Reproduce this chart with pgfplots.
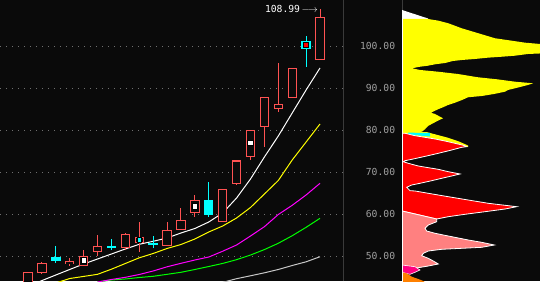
\documentclass[border=0pt]{standalone}
\usepackage{fontspec}
\setmonofont{DejaVu Sans Mono}
\usepackage{pgfplots}
\usepackage{pgfplotstable}
\pgfplotsset{compat=1.18}
\definecolor{bgc}{HTML}{0A0A0A}
\definecolor{upred}{HTML}{FF5252}
\definecolor{dncyan}{HTML}{00FFFF}
\definecolor{sepgray}{HTML}{3A3A3A}
\definecolor{gridgray}{HTML}{707070}
\definecolor{labelgray}{HTML}{A0A0A0}
\definecolor{ma5}{HTML}{FFFFFF}
\definecolor{ma10}{HTML}{FFFF00}
\definecolor{ma20}{HTML}{FF00FF}
\definecolor{ma30}{HTML}{00FF00}
\definecolor{ma60}{HTML}{C8C8C8}
\definecolor{pyellow}{HTML}{FFFF00}
\definecolor{pred}{HTML}{FF0000}
\definecolor{ppink}{HTML}{FF8080}
\definecolor{pmag}{HTML}{FF0080}
\definecolor{porange}{HTML}{FF8000}

% up candles: index, open, close, high, low
\pgfplotstableread{
i o c h l
1 43.5 46.03 46.03 43.5
2 46.03 48.17 48.64 45.8
4 48.2 48.65 49.7 47.76
5 47.76 50.07 51.5 47.76
6 51.1 52.45 55.07 50.07
8 52.05 55.2 55.6 51.5
9 53.2 54.5 58.1 51.0
11 52.5 56.26 58.25 52.5
12 56.33 58.64 61.43 56.33
13 60.38 63.4 64.6 59.43
15 58.24 65.95 65.95 58.24
16 67.29 72.69 72.69 66.98
17 73.81 80.0 80.0 73.0
18 80.95 87.86 87.86 76.1
19 85.14 86.19 96.1 84.43
20 87.86 94.76 94.76 87.86
22 96.81 106.9 108.99 96.81
}\upc
% down candles
\pgfplotstableread{
i o c h l
3 49.67 48.95 52.45 48.48
7 52.45 51.98 54.12 51.5
10 53.0 52.88 54.83 51.9
14 63.4 60.07 67.62 59.43
21 101.1 99.43 102.45 95.14
}\dnc
% markers inside bodies
\pgfplotstableread{
i y
5 49.12
13 61.93
17 77.02
}\wmark
\pgfplotstableread{
i v
1 42.9
2 44.22
3 45.55
4 46.86
5 48.17
6 49.36
7 50.55
8 51.74
9 52.86
10 53.57
11 54.36
12 55.55
13 56.62
14 58.17
15 60.31
16 63.88
17 68.40
18 73.64
19 78.64
20 84.12
21 89.60
22 94.83
}\maA
\pgfplotstableread{
i v
3 43.64
4 44.71
5 45.21
6 45.71
7 46.93
8 48.29
9 49.64
10 50.67
11 51.86
12 52.81
13 54.12
14 55.79
15 57.21
16 59.12
17 61.62
18 64.83
19 68.05
20 72.93
21 77.21
22 81.50
}\maB
\pgfplotstableread{
i v
6 43.88
7 44.48
8 45.00
9 45.67
10 46.50
11 47.50
12 48.33
13 49.12
14 49.83
15 51.21
16 52.69
17 54.83
18 57.05
19 59.95
20 62.14
21 64.60
22 67.38
}\maC
\pgfplotstableread{
i v
6 43.88
7 44.36
8 44.60
9 44.95
10 45.24
11 45.71
12 46.19
13 46.86
14 47.57
15 48.30
16 49.20
17 50.30
18 51.60
19 53.10
20 54.90
21 56.90
22 59.05
}\maD
\pgfplotstableread{
i v
15 43.80
16 44.67
17 45.36
18 46.07
19 46.86
20 47.81
21 48.69
22 49.90
}\maE

\begin{document}
\begin{tikzpicture}
\fill[bgc] (0,0) rectangle (540pt,281pt);
\begin{axis}[at={(0pt,0pt)}, anchor=south west, scale only axis,
  width=343.3pt, height=281pt,
  xmin=-1.0137, xmax=23.675, ymin=44.12, ymax=111.02,
  axis x line=none, axis y line=right, xtick=\empty,
  y axis line style={draw=sepgray, line width=1pt, -},
  ytick={50,60,70,80,90,100},
  yticklabels={50.00,60.00,70.00,80.00,90.00,100.00},
  major tick length=0pt,
  ymajorgrids,
  grid style={draw=gridgray, line width=1pt, dash pattern=on 1pt off 5pt},
  yticklabel style={anchor=east, inner sep=0pt, xshift=52pt, text=labelgray,
    font=\ttfamily\fontsize{9.7}{10}\selectfont},
  clip=true]
% moving averages
\addplot[ma60, line width=1pt] table[x=i,y=v] {\maE};
\addplot[ma30, line width=1pt] table[x=i,y=v] {\maD};
\addplot[ma20, line width=1pt] table[x=i,y=v] {\maC};
\addplot[ma10, line width=1pt] table[x=i,y=v] {\maB};
\addplot[ma5, line width=1pt] table[x=i,y=v] {\maA};
% wicks
\addplot[draw=none, mark=none, error bars/.cd, y dir=plus, y explicit, error mark=none,
  error bar style={draw=upred, line width=1pt}]
  table[x=i, y=l, y error expr=\thisrow{h}-\thisrow{l}] {\upc};
\addplot[draw=none, mark=none, error bars/.cd, y dir=plus, y explicit, error mark=none,
  error bar style={draw=dncyan, line width=1pt}]
  table[x=i, y=l, y error expr=\thisrow{h}-\thisrow{l}] {\dnc};
% up bodies (hollow)
\addplot[draw=none, mark=none, error bars/.cd, y dir=both, y explicit, error mark=none,
  error bar style={draw=upred, line width=9.4pt}]
  table[x=i, y expr=(\thisrow{o}+\thisrow{c})/2, y error expr={abs(\thisrow{c}-\thisrow{o})/2+0.12}] {\upc};
\addplot[draw=none, mark=none, error bars/.cd, y dir=both, y explicit, error mark=none,
  error bar style={draw=bgc, line width=7.4pt}]
  table[x=i, y expr=(\thisrow{o}+\thisrow{c})/2, y error expr={max(abs(\thisrow{c}-\thisrow{o})/2-0.12,0.001)}] {\upc};
% down bodies (filled)
\addplot[draw=none, mark=none, error bars/.cd, y dir=both, y explicit, error mark=none,
  error bar style={draw=dncyan, line width=9.4pt}]
  table[x=i, y expr=(\thisrow{o}+\thisrow{c})/2, y error expr={abs(\thisrow{c}-\thisrow{o})/2+0.12}] {\dnc};
% markers
\addplot[only marks, mark=square*, mark size=2.8pt, mark options={draw=none, fill=white}]
  table[x=i,y=y] {\wmark};
\addplot[only marks, mark=square*, mark size=2.4pt, mark options={draw=none, fill=dncyan}]
  coordinates {(9,53.9)};
\addplot[only marks, mark=square*, mark size=2.5pt, mark options={draw=none, fill=pred}]
  coordinates {(21,100.4)};
% high label
\addplot[draw=none, mark=none, nodes near coords={108.99\,$\longrightarrow$},
  every node near coord/.append style={anchor=east, text=white, inner sep=0pt, xshift=-2pt,
    font=\ttfamily\fontsize{9.7}{10}\selectfont}]
  coordinates {(22,108.99)};
\end{axis}

\begin{axis}[at={(402pt,0pt)}, anchor=south west, scale only axis,
  width=138pt, height=281pt, xmin=0, xmax=138, ymin=44.12, ymax=111.02,
  hide axis, clip=true]
\addplot[draw=none, fill=white] coordinates {(0,108.64) (26,106.62) (26,106.50) (0,106.50) (0,108.64)};
\addplot[draw=none, fill=pyellow] coordinates {(0,106.50) (26,106.50) (36.3,106.10) (46.3,105.48) (59.7,104.29) (76.3,103.10) (93,101.91) (109.7,101.33) (123,100.86) (138,100.55) (142,100.55) (142,98.33) (126,98.17) (113,97.76) (100,97.52) (86,97.29) (73,96.98) (60,96.74) (51,96.50) (43,96.02) (33,95.71) (26,95.38) (18,95.14) (10,94.76) (18,94.36) (36,93.95) (56,93.40) (76,92.62) (95,92.14) (113,91.57) (131,91.19) (126,90.79) (113,90.00) (106,89.60) (103,89.19) (92,88.64) (80,88.17) (66,87.86) (60,87.21) (53,86.57) (46,86.02) (41,85.48) (36,85.00) (31,84.43) (29,84.19) (33,83.88) (38,83.24) (41,82.86) (36,82.29) (31,81.67) (26,81.02) (23,80.24) (20,79.67) (10,79.43) (0,79.43) (0,106.50)};
\addplot[draw=none, fill=pyellow] coordinates {(0,79.55) (25,79.55) (45,78.29) (57,77.33) (66,76.38) (66,76.02) (0,79.12) (0,79.55)};
\addplot[draw=none, fill=dncyan] coordinates {(6,79.43) (28,79.38) (28,78.52) (6,79.0) (6,79.43)};
\addplot[draw=white, line width=0.8pt, fill=pred] coordinates {(0,79.29) (3,79.29) (13,78.71) (23,78.33) (33,77.93) (43,77.45) (53,76.90) (61.3,76.43) (64.7,76.10) (59.7,75.95) (49.7,75.31) (36.3,74.52) (24.7,73.88) (11.3,73.17) (3,72.76) (1.3,72.52) (6.3,72.14) (16.3,71.50) (26.3,71.10) (36.3,70.71) (46.3,70.14) (58,69.60) (49.7,69.12) (39.7,68.57) (29.7,68.00) (18,67.38) (9.7,66.98) (4.7,66.43) (8,65.62) (13,65.55) (26.3,65.00) (46.3,64.19) (66.3,63.40) (86.3,62.62) (106.3,62.05) (114.7,61.81) (103,61.26) (83,60.62) (63,60.00) (46.3,59.43) (34.7,58.88) (0,60.79) (0,79.29)};
\addplot[draw=white, line width=0.8pt, fill=ppink] coordinates {(0,60.79) (34.7,58.88) (34.7,58.24) (26.3,57.45) (23,56.67) (24.7,56.02) (33,55.48) (49.7,54.67) (66.3,53.88) (79.7,53.33) (92.3,52.69) (79.7,52.14) (59.7,51.90) (39.7,51.67) (26.3,51.26) (21.3,50.71) (19.7,50.14) (26.3,49.52) (31.3,48.88) (36.3,48.17) (26.3,47.69) (16.3,47.29) (9.7,47.14) (0,47.14) (0,60.79)};
\addplot[draw=white, line width=0.6pt, fill=pmag] coordinates {(0,47.93) (13,47.52) (18,46.74) (13,46.19) (8,45.71) (0,46.19) (0,47.93)};
\addplot[draw=none, fill=porange] coordinates {(0,46.19) (4.7,45.95) (9.7,45.14) (16.3,44.60) (21.3,44.12) (23,43.8) (0,43.8) (0,46.19)};
\addplot[sepgray, line width=1pt] coordinates {(0.5,111.02) (0.5,108.64)};
\addplot[white, line width=1pt] coordinates {(0.5,108.64) (0.5,43.5)};
\end{axis}
\pgfresetboundingbox
\path (0,0) rectangle (540pt,281pt);
\end{tikzpicture}
\end{document}
